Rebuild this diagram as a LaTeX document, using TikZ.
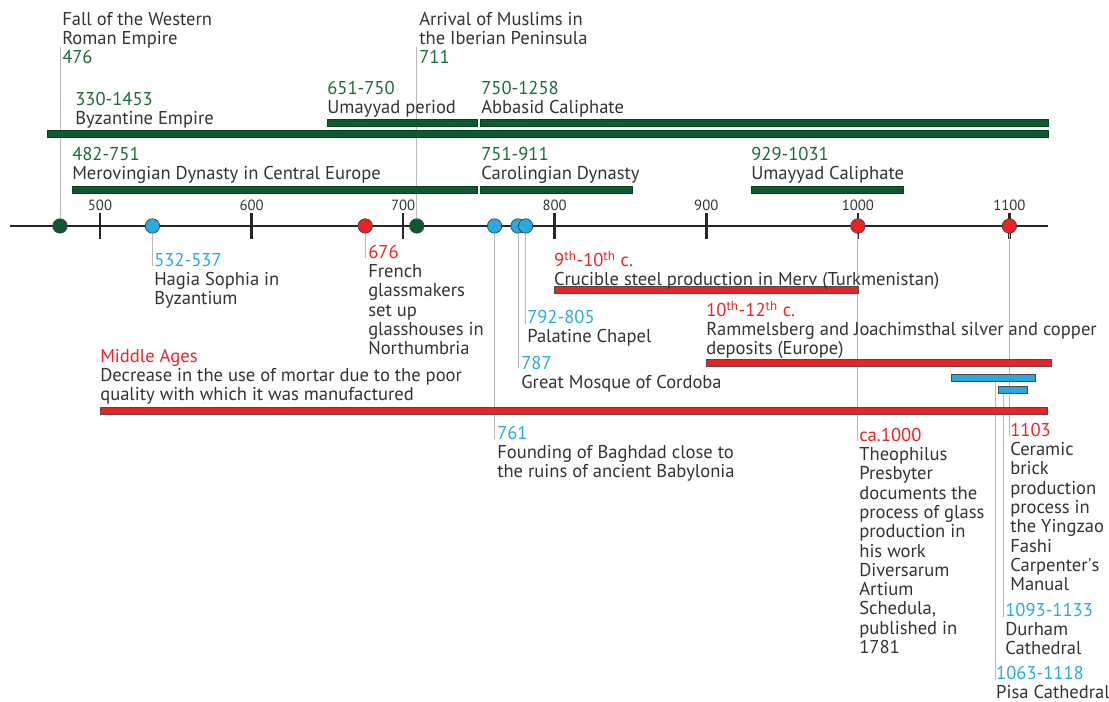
\documentclass[tikz,border=0pt]{standalone}
\usepackage{fontspec}
\setmainfont{PT Sans}
\usepackage{xcolor}
\usepackage{tikz}
\usetikzlibrary{positioning}

\definecolor{txtgray}{HTML}{333333}
\definecolor{lgreen}{HTML}{1A6B36}
\definecolor{bgreen}{HTML}{0E5A2F}
\definecolor{lred}{HTML}{ED2224}
\definecolor{lblue}{HTML}{27AAE1}
\definecolor{leadgray}{HTML}{B8B8B8}

\newcommand\lblsize{\fontsize{13.2}{13.7}\selectfont}
\newcommand\ticksize{\fontsize{10.5}{12}\selectfont}

\tikzset
{
  event/.style={anchor=north west,inner sep=0pt,align=left,text=txtgray,font=\lblsize},
  yearlbl/.style={inner sep=0pt,text=txtgray,font=\ticksize},
  evdot/.style={circle,draw=black!75,line width=0.5pt,fill=#1,minimum size=0.36cm,inner sep=0pt},
  leader/.style={draw=leadgray,line width=0.6pt},
  greenbar/.style={fill=bgreen,draw=bgreen!70!black,line width=0.3pt},
  redbar/.style={fill=lred,draw=black!70,line width=0.4pt},
  bluebar/.style={fill=lblue,draw=black!70,line width=0.4pt},
  axis/.style={draw=black!85,line width=1.8pt}
}

\begin{document}
\begin{tikzpicture}[x=0.037893cm, y=-0.025cm]
        \useasboundingbox (434.02,0) rectangle (1165.7,702);

        % Axis and ticks
        \draw[axis] (440.6,226) -- (1125.4,226);
        \foreach \yr in {500,600,...,1100}
        {
            \draw[axis] (\yr,213) -- (\yr,239);
            \node[yearlbl] (t\yr) at (\yr,205) {\yr};
        }

        % Events on the axis
        \node[evdot=bgreen] (d476) at (473.6,226) {};
        \node[evdot=lblue] (d532) at (534.6,226) {};
        \node[evdot=lred] (d676) at (675,226) {};
        \node[evdot=bgreen] (d711) at (709,226) {};
        \node[evdot=lblue] (d761) at (760.3,226) {};
        \node[evdot=lblue] (d787) at (775.8,226) {};
        \node[evdot=lblue] (d792) at (780.8,226) {};
        \node[evdot=lred] (d1000) at (1000,226) {};
        \node[evdot=lred] (d1100) at (1100,226) {};

        % Leaders
        \coordinate (e476) at (473.6,47);
        \coordinate (e711) at (709,47);
        \coordinate (e532) at (534.6,266);
        \coordinate (e676) at (675,258);
        \coordinate (e761) at (760.3,439);
        \coordinate (e787) at (775.8,368);
        \coordinate (e792) at (780.8,324);
        \coordinate (e1000) at (1000,441);
        \coordinate (e1100) at (1100,436);
        \coordinate (pisa) at (1090.5,382);
        \coordinate (episa) at (1090.5,680);
        \coordinate (durham) at (1095.8,394);
        \coordinate (edurham) at (1095.8,617);
        \draw[leader] (d476) -- (e476);
        \draw[leader] (d711) -- (e711);
        \draw[leader] (d532) -- (e532);
        \draw[leader] (d676) -- (e676);
        \draw[leader] (d761) -- (e761);
        \draw[leader] (d787) -- (e787);
        \draw[leader] (d792) -- (e792);
        \draw[leader] (d1000) -- (e1000);
        \draw[leader] (d1100) -- (e1100);
        \draw[leader] (pisa) -- (episa);
        \draw[leader] (durham) -- (edurham);

        % Periods
        \draw[greenbar] (465,130.5) rectangle (1125.4,137.5);
        \draw[greenbar] (649.8,119.5) rectangle (748.7,126.5);
        \draw[greenbar] (750.7,119.5) rectangle (1125.4,126.5);
        \draw[greenbar] (481.5,186) rectangle (748.7,193);
        \draw[greenbar] (750.7,186) rectangle (851,193);
        \draw[greenbar] (929.5,186) rectangle (1029.8,193);
        \draw[redbar] (800,286) rectangle (1000,293);
        \draw[redbar] (900,359) rectangle (1127.4,366);
        \draw[redbar] (500,407) rectangle (1124.8,414);
        \draw[bluebar] (1061.5,374) rectangle (1117,381.5);
        \draw[bluebar] (1092.5,386.5) rectangle (1112,393.5);

        % Labels above the axis
        \node[event] (l476) at (474.9,12) {Fall of the Western\\Roman Empire\\\textcolor{lgreen}{476}};
        \node[event] (l711) at (710.5,12) {Arrival of Muslims in\\the Iberian Peninsula\\\textcolor{lgreen}{711}};
        \node[event] (lbyz) at (483.5,92) {\textcolor{lgreen}{330-1453}\\Byzantine Empire};
        \node[event] (lumy) at (649.8,81) {\textcolor{lgreen}{651-750}\\Umayyad period};
        \node[event] (labb) at (751.4,81) {\textcolor{lgreen}{750-1258}\\Abbasid Caliphate};
        \node[event] (lmer) at (481.5,147) {\textcolor{lgreen}{482-751}\\Merovingian Dynasty in Central Europe};
        \node[event] (lcar) at (751.4,147) {\textcolor{lgreen}{751-911}\\Carolingian Dynasty};
        \node[event] (lcal) at (929.5,147) {\textcolor{lgreen}{929-1031}\\Umayyad Caliphate};

        % Labels below the axis
        \node[event] (l532) at (535.6,253) {\textcolor{lblue}{532-537}\\Hagia Sophia in\\Byzantium};
        \node[event] (l676) at (676.8,245) {\textcolor{lred}{676}\\French\\glassmakers\\set up\\glasshouses in\\Northumbria};
        \node[event] (lmerv) at (799.5,251) {\textcolor{lred}{9\textsuperscript{th}-10\textsuperscript{th} c.}\\Crucible steel production in Merv (Turkmenistan)};
        \node[event] (l792) at (781.7,310) {\textcolor{lblue}{792-805}\\Palatine Chapel};
        \node[event] (lram) at (899.8,301) {\textcolor{lred}{10\textsuperscript{th}-12\textsuperscript{th} c.}\\Rammelsberg and Joachimsthal silver and copper\\deposits (Europe)};
        \node[event] (l787) at (777.8,356) {\textcolor{lblue}{787}\\Great Mosque of Cordoba};
        \node[event] (lmid) at (500,349) {\textcolor{lred}{Middle Ages}\\Decrease in the use of mortar due to the poor\\quality with which it was manufactured};
        \node[event] (l761) at (761.9,426) {\textcolor{lblue}{761}\\Founding of Baghdad close to\\the ruins of ancient Babylonia};
        \node[event] (l1000) at (1000.8,428) {\textcolor{lred}{ca.1000}\\Theophilus\\Presbyter\\documents the\\process of glass\\production in\\his work\\Diversarum\\Artium\\Schedula,\\published in\\1781};
        \node[event] (l1103) at (1100.4,423) {\textcolor{lred}{1103}\\Ceramic\\brick\\production\\process in\\the Yingzao\\Fashi\\Carpenter\textquotesingle s\\Manual};
        \node[event] (ldur) at (1097.1,603) {\textcolor{lblue}{1093-1133}\\Durham\\Cathedral};
        \node[event] (lpisa) at (1091.1,666) {\textcolor{lblue}{1063-1118}\\Pisa Cathedral};
    \end{tikzpicture}
\end{document}
